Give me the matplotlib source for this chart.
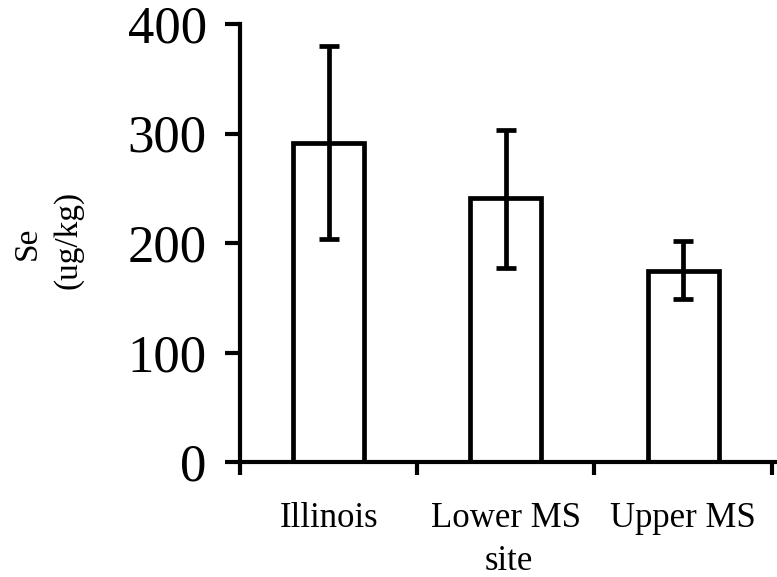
import matplotlib
matplotlib.use("Agg")
import matplotlib.pyplot as plt
from matplotlib.ticker import FixedLocator, NullFormatter

# values
sites = ["Illinois", "Lower MS", "Upper MS"]
se_mean = [291, 241, 174]
err_low = [87, 64, 25]
err_high = [89, 62, 28]
yticks = [0, 100, 200, 300, 400]

plt.rcParams["font.family"] = ["Liberation Serif", "DejaVu Serif"]

fig = plt.figure(figsize=(7.77, 5.77), dpi=100)
ax = fig.add_axes([240 / 777, 115 / 577, 537 / 777, 438 / 577])

x = list(range(len(sites)))
ax.bar(x, se_mean, width=0.4, color="white", edgecolor="black", linewidth=3.4, zorder=2)
ax.errorbar(x, se_mean, yerr=[err_low, err_high], fmt="none", ecolor="black",
            elinewidth=3.4, capsize=7, capthick=3.4, zorder=3)

ax.set_ylim(0, 400)
ax.set_xlim(-0.5, 2.53)
ax.set_yticks(yticks)
ax.tick_params(axis="y", labelsize=38, length=11, width=3, pad=13, direction="out")

# category labels centred on bars, tick marks between categories
ax.set_xticks(x)
ax.set_xticklabels(sites)
ax.tick_params(axis="x", which="major", length=0, labelsize=25, pad=29)
ax.xaxis.set_minor_locator(FixedLocator([-0.5, 0.5, 1.5, 2.5]))
ax.xaxis.set_minor_formatter(NullFormatter())
ax.tick_params(axis="x", which="minor", length=9, width=3, direction="out")

ax.set_xlabel("site", fontsize=25, labelpad=7)

for side in ["top", "right"]:
    ax.spines[side].set_visible(False)
for side in ["left", "bottom"]:
    ax.spines[side].set_linewidth(3)

fig.text(27 / 777, 1 - 243 / 577, "Se", rotation=90, fontsize=24, ha="center", va="center")
fig.text(68 / 777, 1 - 240 / 577, "(ug/kg)", rotation=90, fontsize=24, ha="center", va="center")

fig.savefig("out.png", dpi=100)
